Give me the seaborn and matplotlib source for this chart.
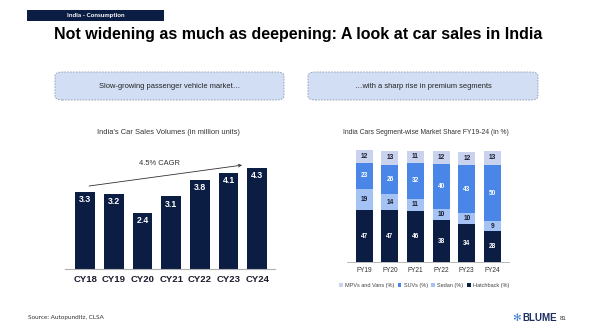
import matplotlib
matplotlib.use("Agg")
import matplotlib.pyplot as plt
from matplotlib.patches import FancyBboxPatch, Rectangle, Patch
import seaborn as sns
import pandas as pd
import numpy as np

sns.set_theme(style="white")
plt.rcParams["font.family"] = ["Liberation Sans", "DejaVu Sans"]

# ---- data -------------------------------------------------------------
years = ["CY18", "CY19", "CY20", "CY21", "CY22", "CY23", "CY24"]
volumes = [3.3, 3.2, 2.4, 3.1, 3.8, 4.1, 4.3]
cagr_label = "4.5% CAGR"

fiscal_years = ["FY19", "FY20", "FY21", "FY22", "FY23", "FY24"]
hatchback = [47, 47, 46, 38, 34, 28]
sedan = [19, 14, 11, 10, 10, 9]
suvs = [23, 26, 32, 40, 43, 50]
mpvs = [12, 13, 11, 12, 12, 13]
segment_names = ["MPVs and Vans (%)", "SUVs (%)", "Sedan (%)", "Hatchback (%)"]

# ---- colours ----------------------------------------------------------
NAVY = "#0c1d44"
SUV_BLUE = "#4a86e8"
SEDAN_BLUE = "#a4c2f4"
MPV_LAV = "#c9d3ee"
BOX_FILL = "#d2def4"

W, H = 603, 328
fig = plt.figure(figsize=(W / 100, H / 100), dpi=100)
fig.patch.set_facecolor("white")


def fx(px):
    return px / W


def fy(py):
    return 1 - py / H


# ---- header strip and title -------------------------------------------
fig.patches.append(Rectangle((fx(27), fy(21)), fx(137), 11 / H, transform=fig.transFigure,
                             facecolor=NAVY, edgecolor="none"))
fig.text(fx(95.5), fy(15.5), "India - Consumption", color="white", fontsize=4.6,
         fontweight="bold", ha="center", va="center", family=["Lato", "DejaVu Sans"])
fig.text(fx(298), fy(34), "Not widening as much as deepening: A look at car sales in India",
         fontsize=11.5, fontweight="bold", ha="center", va="center", color="black")

# ---- dashed caption boxes ---------------------------------------------
for x0, x1, label in [(55, 284, "Slow-growing passenger vehicle market\u2026"),
                      (308, 538, "\u2026with a sharp rise in premium segments")]:
    box = FancyBboxPatch((fx(x0), fy(100)), fx(x1 - x0), 28 / H,
                         boxstyle="round,pad=0,rounding_size=0.012",
                         transform=fig.transFigure, facecolor=BOX_FILL,
                         edgecolor="#8f9bb0", linewidth=0.6, linestyle=(0, (2, 1.5)))
    fig.patches.append(box)
    fig.text(fx((x0 + x1) / 2), fy(86), label, fontsize=5.4, ha="center", va="center",
             color="#222222")

# ---- left chart: car sales volumes ------------------------------------
axL = fig.add_axes([fx(65), fy(269), fx(210), 105.5 / H])
sales = pd.DataFrame({"year": years, "volume": volumes})
sns.barplot(data=sales, x="year", y="volume", color=NAVY, width=0.68, ax=axL,
            saturation=1, edgecolor="none")
axL.set_xlim(-0.70, 6.62)
axL.set_ylim(0, 4.5)
axL.set_xlabel("")
axL.set_ylabel("")
axL.set_yticks([])
for s in ["top", "right", "left"]:
    axL.spines[s].set_visible(False)
axL.spines["bottom"].set_color("#b0b0b0")
axL.spines["bottom"].set_linewidth(0.8)
axL.tick_params(axis="x", length=0, pad=4, labelsize=6.8, labelcolor="#1a1a2e")
for t in axL.get_xticklabels():
    t.set_fontweight("bold")
for i, v in enumerate(volumes):
    axL.text(i, v - 0.33, f"{v:.1f}", ha="center", va="center", color="white",
             fontsize=6.3, fontweight="bold")
axL.annotate("", xy=(5.47, 4.43), xytext=(0.14, 3.54),
             arrowprops=dict(arrowstyle="->", color="#333333", lw=0.6,
                             shrinkA=0, shrinkB=0, mutation_scale=5),
             annotation_clip=False)
axL.text(2.58, 4.48, cagr_label, ha="center", va="center", fontsize=5.4, color="#333333",
         clip_on=False)
fig.text(fx(168), fy(133), "India's Car Sales Volumes (in million units)", fontsize=5.4,
         ha="center", va="center", color="#333333")

# ---- right chart: segment-wise market share ---------------------------
axR = fig.add_axes([fx(347), fy(262.3), fx(162), 111.6 / H])
share = pd.DataFrame({"fy": fiscal_years, "Hatchback": hatchback, "Sedan": sedan,
                      "SUVs": suvs, "MPVs": mpvs})
stack_order = [("Hatchback", NAVY), ("Sedan", SEDAN_BLUE), ("SUVs", SUV_BLUE), ("MPVs", MPV_LAV)]
cum = share[[c for c, _ in stack_order]].cumsum(axis=1)
# draw cumulative totals from the top segment down so each layer sits on the one below
for col, colour in reversed(stack_order):
    sns.barplot(x=share["fy"], y=cum[col], color=colour, width=0.66, ax=axR,
                saturation=1, edgecolor="none")
axR.set_xlim(-0.676, 5.65)
axR.set_ylim(0, 100)
axR.set_xlabel("")
axR.set_ylabel("")
axR.set_yticks([])
for s in ["top", "right", "left"]:
    axR.spines[s].set_visible(False)
axR.spines["bottom"].set_color("#b8b8b8")
axR.spines["bottom"].set_linewidth(0.7)
axR.tick_params(axis="x", length=0, pad=3.5, labelsize=4.8, labelcolor="#333333")
for p in axR.patches:
    p.set_clip_on(False)
label_colours = {"Hatchback": "white", "Sedan": "#1a1a2e", "SUVs": "white", "MPVs": "#1a1a2e"}
for i in range(len(fiscal_years)):
    base = 0
    for col, _ in stack_order:
        val = share[col][i]
        axR.text(i, base + val / 2, str(val), ha="center", va="center", fontsize=4.7,
                 fontweight="bold", color=label_colours[col], clip_on=False)
        base += val
fig.text(fx(426), fy(132), "India Cars Segment-wise Market Share FY19-24 (in %)",
         fontsize=4.9, ha="center", va="center", color="#333333")

handles = [Patch(facecolor=c, edgecolor="none") for c in [MPV_LAV, SUV_BLUE, SEDAN_BLUE, NAVY]]
fig.legend(handles, segment_names, loc="center", bbox_to_anchor=(fx(424), fy(285)),
           ncol=4, frameon=False, fontsize=4.0, handlelength=0.7, handleheight=0.7,
           handletextpad=0.4, columnspacing=0.6, labelcolor="#444444")

# ---- footer -----------------------------------------------------------
fig.text(fx(28), fy(317), "Source: Autopunditz, CLSA", fontsize=4.6, ha="left", va="center",
         color="#333333", family=["Lato", "DejaVu Sans"])
fig.text(fx(517), fy(318), "\u273b", fontsize=7.5, ha="center", va="center", color="#3c78d8",
         family=["DejaVu Sans"])
fig.text(fx(522), fy(318), "BLUME", fontsize=7, ha="left", va="center", color="#1c2f5f",
         fontweight="bold")
fig.text(fx(560), fy(318), "81", fontsize=4.3, ha="left", va="center", color="#333333")

fig.savefig("out.png", dpi=100, facecolor="white")
